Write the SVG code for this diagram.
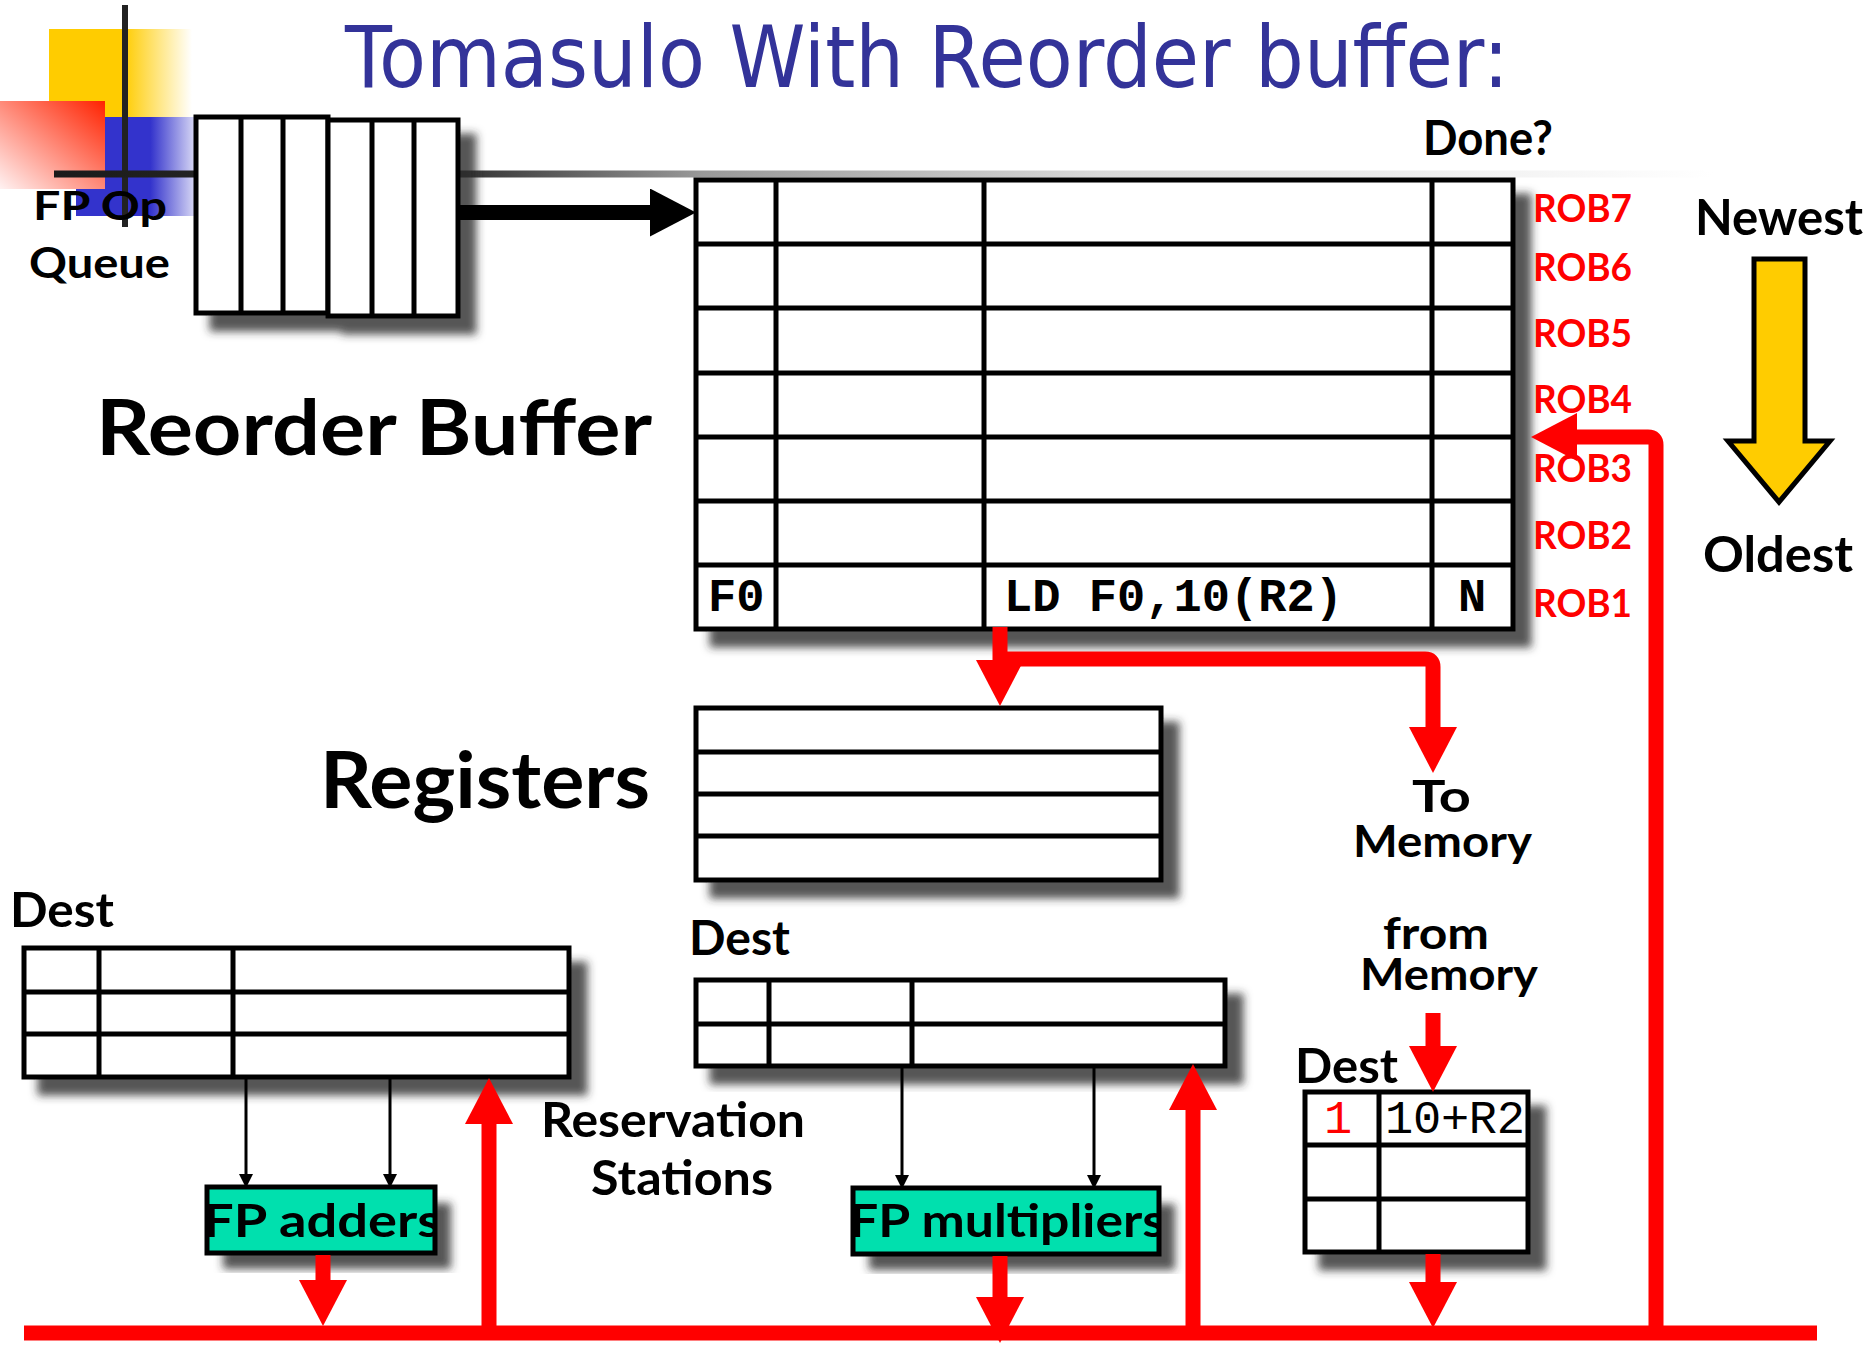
<svg xmlns="http://www.w3.org/2000/svg" width="1868" height="1345" viewBox="0 0 1868 1345">
  <defs>
    <style>
      .hand { font-family: Lato, "Open Sans", "DejaVu Sans", sans-serif; font-weight: bold; fill: #000; }
      .mono { font-family: "Liberation Mono", "DejaVu Sans Mono", monospace; font-size: 47px; fill: #000; }
      .cell { fill: #fff; stroke: #000; stroke-width: 5; }
      .rule { stroke: #000; stroke-width: 5; }
      .unit { fill: #00e0ae; }
      .frame { fill: none; stroke: #000; stroke-width: 5; }
      .bus { fill: none; stroke: #f00; stroke-width: 15; stroke-linejoin: round; }
      .feed { fill: none; stroke: #000; stroke-width: 3; }
      .rob { font-family: Lato, "Open Sans", sans-serif; font-weight: bold; font-size: 38px; fill: #f00; }
    </style>
    <filter id="shadow" x="-10%" y="-10%" width="130%" height="140%">
      <feDropShadow dx="16" dy="16" stdDeviation="4" flood-color="#2a2a2a" flood-opacity="0.8"/>
    </filter>
    <linearGradient id="yellowFade" x1="0" y1="0" x2="1" y2="0">
      <stop offset="0" stop-color="#ffcc00"/>
      <stop offset="0.52" stop-color="#ffcc00"/>
      <stop offset="1" stop-color="#ffffff"/>
    </linearGradient>
    <linearGradient id="blueFade" x1="0" y1="0" x2="1" y2="0">
      <stop offset="0" stop-color="#3333cc"/>
      <stop offset="0.62" stop-color="#3333cc"/>
      <stop offset="1" stop-color="#dcdcf6"/>
    </linearGradient>
    <linearGradient id="redFade" x1="1" y1="0" x2="0" y2="1">
      <stop offset="0" stop-color="#ff2200"/>
      <stop offset="1" stop-color="#fff2f2"/>
    </linearGradient>
    <linearGradient id="rule" gradientUnits="userSpaceOnUse" x1="54" y1="0" x2="1713" y2="0">
      <stop offset="0" stop-color="#1a1a1a"/>
      <stop offset="0.245" stop-color="#333333"/>
      <stop offset="0.39" stop-color="#999999"/>
      <stop offset="0.63" stop-color="#d8d8d8"/>
      <stop offset="0.84" stop-color="#f0f0f0"/>
      <stop offset="1" stop-color="#ffffff"/>
    </linearGradient>
    <marker id="rh" viewBox="0 0 46 48" refX="0" refY="24" markerWidth="46" markerHeight="48" markerUnits="userSpaceOnUse" orient="auto">
      <path d="M0,0 L46,24 L0,48 z" fill="#f00"/>
    </marker>
    <marker id="kh" viewBox="0 0 46 48" refX="0" refY="24" markerWidth="46" markerHeight="48" markerUnits="userSpaceOnUse" orient="auto">
      <path d="M0,0 L46,24 L0,48 z" fill="#000"/>
    </marker>
    <marker id="sh" viewBox="0 0 14 14" refX="0" refY="7" markerWidth="14" markerHeight="14" markerUnits="userSpaceOnUse" orient="auto">
      <path d="M0,0 L14,7 L0,14 z" fill="#000"/>
    </marker>
    <clipPath id="addClip"><rect x="207" y="1187" width="228" height="66"/></clipPath>
    <clipPath id="mulClip"><rect x="853" y="1188" width="306" height="66"/></clipPath>
  </defs>

  <rect width="1868" height="1345" fill="#fff"/>

  <!-- slide ornament -->
  <g id="ornament">
    <rect x="49" y="29" width="143" height="88" fill="url(#yellowFade)"/>
    <rect x="76" y="117" width="120" height="99" fill="url(#blueFade)"/>
    <rect x="0" y="101" width="105" height="88" fill="url(#redFade)"/>
    <rect x="122" y="5" width="6" height="222" fill="#222"/>
    <rect x="54" y="170.5" width="1659" height="7" fill="url(#rule)"/>
  </g>

  <text x="345" y="87" font-family="'DejaVu Sans', sans-serif" font-size="85" fill="#333399" textLength="1164" lengthAdjust="spacingAndGlyphs">Tomasulo With Reorder buffer:</text>

  <!-- FP op queue -->
  <g id="op-queue">
    <g filter="url(#shadow)">
      <rect class="cell" x="196" y="117" width="132" height="196"/>
      <line class="rule" x1="241" y1="117" x2="241" y2="313"/>
      <line class="rule" x1="283" y1="117" x2="283" y2="313"/>
      <rect class="cell" x="328" y="120" width="130" height="196"/>
      <line class="rule" x1="372" y1="120" x2="372" y2="316"/>
      <line class="rule" x1="414" y1="120" x2="414" y2="316"/>
    </g>
    <text class="hand">
      <tspan x="33" y="220" font-size="41" textLength="134" lengthAdjust="spacingAndGlyphs">FP Op</tspan>
      <tspan x="29" y="278" font-size="42" textLength="141" lengthAdjust="spacingAndGlyphs">Queue</tspan>
    </text>
  </g>

  <!-- reorder buffer -->
  <g id="reorder-buffer">
    <g filter="url(#shadow)">
      <rect class="cell" x="696" y="180" width="817" height="449"/>
      <line class="rule" x1="776" y1="180" x2="776" y2="629"/>
      <line class="rule" x1="984" y1="180" x2="984" y2="629"/>
      <line class="rule" x1="1432" y1="180" x2="1432" y2="629"/>
      <line class="rule" x1="696" y1="244" x2="1513" y2="244"/>
      <line class="rule" x1="696" y1="308" x2="1513" y2="308"/>
      <line class="rule" x1="696" y1="373" x2="1513" y2="373"/>
      <line class="rule" x1="696" y1="437" x2="1513" y2="437"/>
      <line class="rule" x1="696" y1="501" x2="1513" y2="501"/>
      <line class="rule" x1="696" y1="565" x2="1513" y2="565"/>
    </g>
    <text class="mono" x="708" y="611" font-weight="bold">F0</text>
    <text class="mono" x="1004" y="611" font-weight="bold" textLength="339">LD F0,10(R2)</text>
    <text class="mono" x="1472" y="611" font-weight="bold" text-anchor="middle">N</text>
    <text class="hand" x="96" y="455" font-size="76" textLength="556" lengthAdjust="spacingAndGlyphs">Reorder Buffer</text>
    <text class="hand" x="1423" y="155" font-size="48" textLength="130" lengthAdjust="spacingAndGlyphs">Done?</text>
    <text class="rob" x="1533" y="222" textLength="99" lengthAdjust="spacingAndGlyphs">ROB7</text>
    <text class="rob" x="1533" y="281" textLength="99" lengthAdjust="spacingAndGlyphs">ROB6</text>
    <text class="rob" x="1533" y="347" textLength="99" lengthAdjust="spacingAndGlyphs">ROB5</text>
    <text class="rob" x="1533" y="413" textLength="99" lengthAdjust="spacingAndGlyphs">ROB4</text>
    <text class="rob" x="1533" y="482" textLength="99" lengthAdjust="spacingAndGlyphs">ROB3</text>
    <text class="rob" x="1533" y="549" textLength="99" lengthAdjust="spacingAndGlyphs">ROB2</text>
    <text class="rob" x="1533" y="617" textLength="99" lengthAdjust="spacingAndGlyphs">ROB1</text>
  </g>

  <!-- age indicator -->
  <g id="age">
    <text class="hand" x="1695" y="235" font-size="49" textLength="168" lengthAdjust="spacingAndGlyphs">Newest</text>
    <polygon points="1754,259 1805,259 1805,441 1830,441 1779,502 1728,441 1754,441" fill="#ffcc00" stroke="#000" stroke-width="5"/>
    <text class="hand" x="1703" y="572" font-size="49" textLength="150" lengthAdjust="spacingAndGlyphs">Oldest</text>
  </g>

  <!-- register file -->
  <g id="registers">
    <g filter="url(#shadow)">
      <rect class="cell" x="696" y="708" width="465" height="172"/>
      <line class="rule" x1="696" y1="752" x2="1161" y2="752"/>
      <line class="rule" x1="696" y1="794" x2="1161" y2="794"/>
      <line class="rule" x1="696" y1="836" x2="1161" y2="836"/>
    </g>
    <text class="hand" x="320" y="808" font-size="78" textLength="330" lengthAdjust="spacingAndGlyphs">Registers</text>
  </g>

  <!-- adder reservation stations -->
  <g id="add-stations">
    <g filter="url(#shadow)">
      <rect class="cell" x="24" y="948" width="545" height="129"/>
      <line class="rule" x1="99" y1="948" x2="99" y2="1077"/>
      <line class="rule" x1="233" y1="948" x2="233" y2="1077"/>
      <line class="rule" x1="24" y1="992" x2="569" y2="992"/>
      <line class="rule" x1="24" y1="1034" x2="569" y2="1034"/>
    </g>
    <text class="hand" x="10" y="927" font-size="47" textLength="104" lengthAdjust="spacingAndGlyphs">Dest</text>
  </g>

  <!-- multiplier reservation stations -->
  <g id="mul-stations">
    <g filter="url(#shadow)">
      <rect class="cell" x="696" y="980" width="529" height="86"/>
      <line class="rule" x1="769" y1="980" x2="769" y2="1066"/>
      <line class="rule" x1="912" y1="980" x2="912" y2="1066"/>
      <line class="rule" x1="696" y1="1024" x2="1225" y2="1024"/>
    </g>
    <text class="hand" x="689" y="955" font-size="47" textLength="101" lengthAdjust="spacingAndGlyphs">Dest</text>
  </g>

  <text class="hand" font-size="47">
    <tspan x="541" y="1137" textLength="264" lengthAdjust="spacingAndGlyphs">Reservation</tspan>
    <tspan x="591" y="1195" textLength="182" lengthAdjust="spacingAndGlyphs">Stations</tspan>
  </text>

  <!-- load buffers -->
  <g id="load-buffers">
    <g filter="url(#shadow)">
      <rect class="cell" x="1305" y="1092" width="223" height="160"/>
      <line class="rule" x1="1379" y1="1092" x2="1379" y2="1252"/>
      <line class="rule" x1="1305" y1="1145" x2="1528" y2="1145"/>
      <line class="rule" x1="1305" y1="1199" x2="1528" y2="1199"/>
    </g>
    <text class="mono" x="1324" y="1133" style="fill:#f00">1</text>
    <text class="mono" x="1385" y="1133" textLength="140">10+R2</text>
    <text class="hand" x="1295" y="1083" font-size="47" textLength="103" lengthAdjust="spacingAndGlyphs">Dest</text>
  </g>

  <!-- functional units -->
  <g id="fp-adders">
    <rect class="unit" x="207" y="1187" width="228" height="66" filter="url(#shadow)"/>
    <text class="hand" x="203" y="1237" font-size="46" textLength="238" lengthAdjust="spacingAndGlyphs" clip-path="url(#addClip)">FP adders</text>
    <rect class="frame" x="207" y="1187" width="228" height="66"/>
  </g>
  <g id="fp-multipliers">
    <rect class="unit" x="853" y="1188" width="306" height="66" filter="url(#shadow)"/>
    <text class="hand" x="849" y="1237" font-size="46" textLength="316" lengthAdjust="spacingAndGlyphs" clip-path="url(#mulClip)">FP multipliers</text>
    <rect class="frame" x="853" y="1188" width="306" height="66"/>
  </g>

  <!-- memory labels -->
  <g id="memory">
    <text class="hand" font-size="44">
      <tspan x="1412" y="812" textLength="59" lengthAdjust="spacingAndGlyphs">To</tspan>
      <tspan x="1353" y="857" textLength="179" lengthAdjust="spacingAndGlyphs">Memory</tspan>
    </text>
    <text class="hand" font-size="44">
      <tspan x="1383" y="949" textLength="106" lengthAdjust="spacingAndGlyphs">from</tspan>
      <tspan x="1360" y="990" textLength="178" lengthAdjust="spacingAndGlyphs">Memory</tspan>
    </text>
  </g>

  <!-- connectors -->
  <g id="connectors">
    <path d="M458,212.5 H650" fill="none" stroke="#000" stroke-width="15" marker-end="url(#kh)"/>

    <path class="bus" d="M1000,627 V660" marker-end="url(#rh)"/>
    <path class="bus" d="M1000,659 H1425 Q1433,659 1433,667 V727" marker-end="url(#rh)"/>
    <path class="bus" d="M1433,1013 V1046" marker-end="url(#rh)"/>
    <path class="bus" d="M1433,1254 V1282" marker-end="url(#rh)"/>
    <path class="bus" d="M323,1255 V1280" marker-end="url(#rh)"/>
    <path class="bus" d="M1000,1256 V1297" marker-end="url(#rh)"/>

    <path class="bus" d="M24,1333 H1817"/>
    <path class="bus" d="M489,1333 V1124" marker-end="url(#rh)"/>
    <path class="bus" d="M1193,1333 V1110" marker-end="url(#rh)"/>
    <path class="bus" d="M1656,1333 V445 Q1656,437 1648,437 H1577" marker-end="url(#rh)"/>

    <path class="feed" d="M246,1079 V1174" marker-end="url(#sh)"/>
    <path class="feed" d="M390,1079 V1174" marker-end="url(#sh)"/>
    <path class="feed" d="M902,1068 V1175" marker-end="url(#sh)"/>
    <path class="feed" d="M1094,1068 V1175" marker-end="url(#sh)"/>
  </g>
</svg>
